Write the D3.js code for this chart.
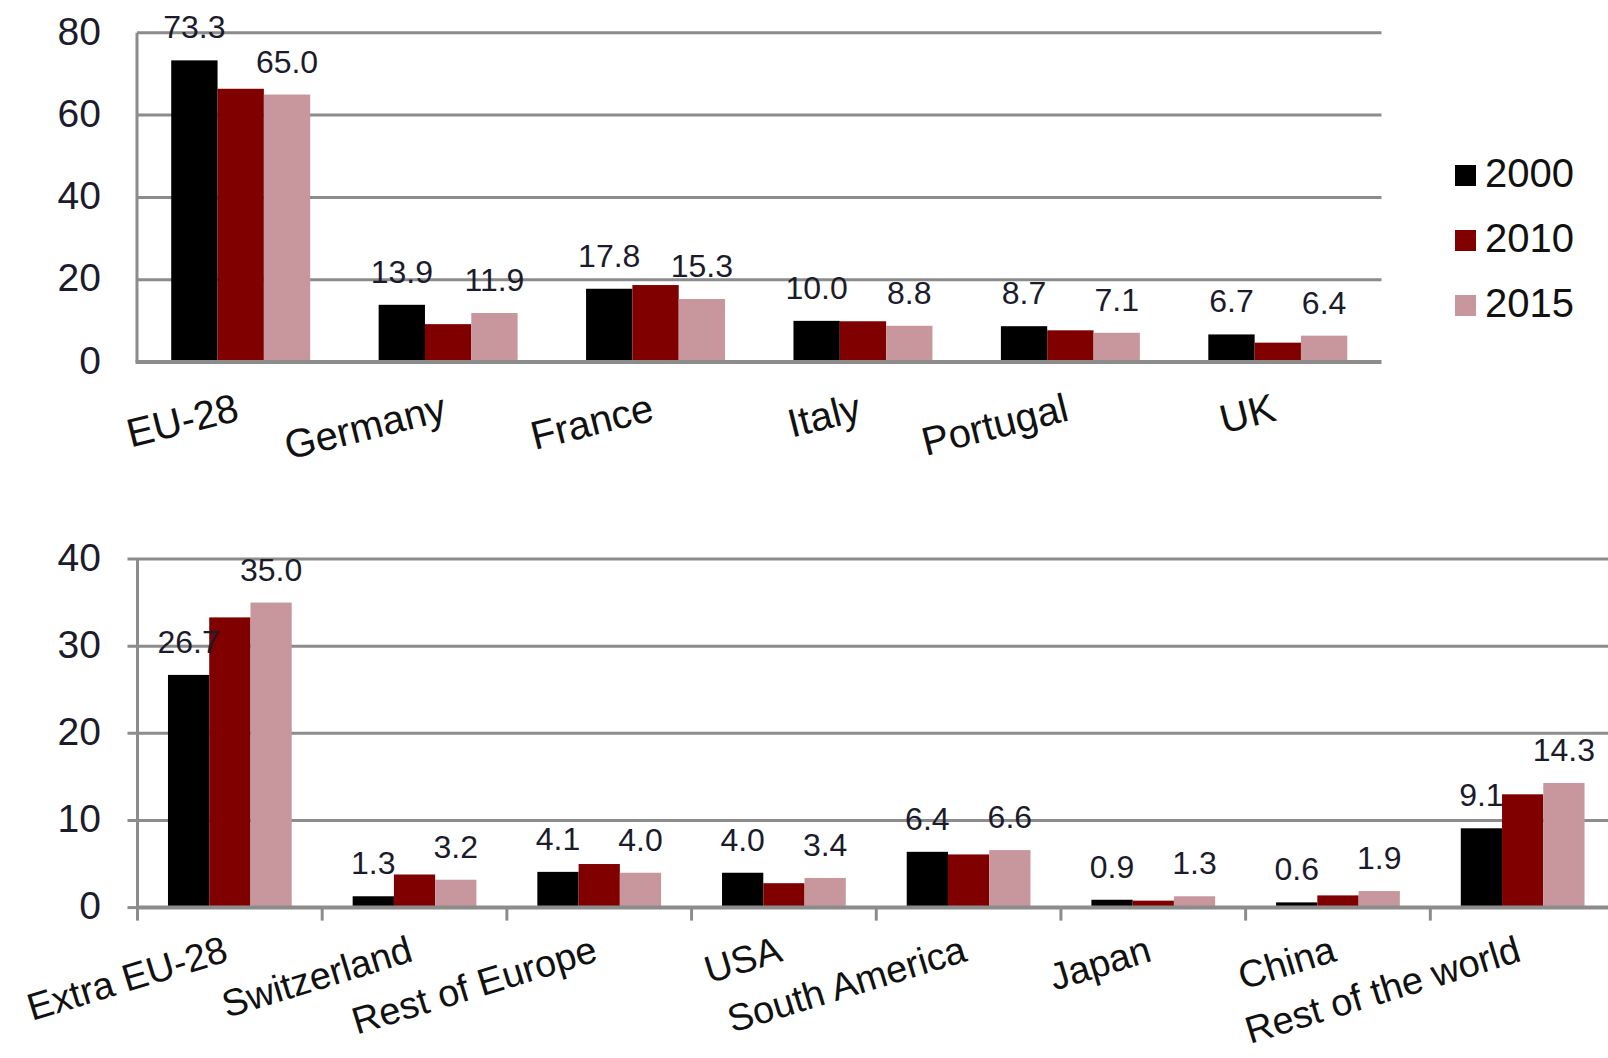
<!DOCTYPE html>
<html>
<head>
<meta charset="utf-8">
<script src="https://cdn.jsdelivr.net/npm/d3@7"></script>
<style>
  html, body { margin: 0; padding: 0; background: #ffffff; }
  svg { display: block; }
  text { font-family: "Liberation Sans", Arial, Helvetica, sans-serif; fill: #111; }
</style>
</head>
<body>
<svg id="chart" width="1608" height="1058"></svg>
<script>
// ---------- data ----------
const seriesNames = ["2000", "2010", "2015"];
const seriesColors = ["#000000", "#800000", "#c8979d"];

const topCategories = ["EU-28", "Germany", "France", "Italy", "Portugal", "UK"];
const top2000 = [73.3, 13.9, 17.8, 10.0, 8.7, 6.7];
const top2010 = [66.4, 9.2, 18.7, 9.9, 7.7, 4.7];
const top2015 = [65.0, 11.9, 15.3, 8.8, 7.1, 6.4];
const topTicks = [0, 20, 40, 60, 80];

const bottomCategories = ["Extra EU-28", "Switzerland", "Rest of Europe", "USA",
  "South America", "Japan", "China", "Rest of the world"];
const bottom2000 = [26.7, 1.3, 4.1, 4.0, 6.4, 0.9, 0.6, 9.1];
const bottom2010 = [33.3, 3.8, 5.0, 2.8, 6.1, 0.8, 1.4, 13.0];
const bottom2015 = [35.0, 3.2, 4.0, 3.4, 6.6, 1.3, 1.9, 14.3];
const bottomTicks = [0, 10, 20, 30, 40];

// series that carry value labels
const labelledSeries = ["2000", "2015"];

// ---------- drawing ----------
const svg = d3.select("#chart");
const gridColor = "#8c8c8c";

function drawPanel(cfg) {
  const g = svg.append("g");
  const values = [cfg.v2000, cfg.v2010, cfg.v2015];
  const rows = cfg.categories.map((c, i) => ({
    cat: c,
    vals: seriesNames.map((s, k) => ({ series: s, value: values[k][i] }))
  }));

  const x = d3.scaleBand().domain(cfg.categories)
    .range([cfg.left, cfg.right]).paddingInner(0.33).paddingOuter(0.165);
  const xs = d3.scaleBand().domain(seriesNames).range([0, x.bandwidth()]).padding(0);
  const y = d3.scaleLinear().domain(cfg.domain).range([cfg.bottom, cfg.top]);

  // gridlines (excluding 0)
  g.append("g").selectAll("line")
    .data(cfg.ticks.filter(t => t !== 0))
    .join("line")
    .attr("x1", cfg.left - cfg.yTickLen).attr("x2", cfg.gridRight)
    .attr("y1", d => y(d)).attr("y2", d => y(d))
    .attr("stroke", gridColor).attr("stroke-width", 3);

  // y tick mark for 0 (bottom panel)
  if (cfg.yTickLen > 0) {
    g.append("line")
      .attr("x1", cfg.left - cfg.yTickLen).attr("x2", cfg.left)
      .attr("y1", y(0)).attr("y2", y(0))
      .attr("stroke", gridColor).attr("stroke-width", 3);
  }

  // y tick labels
  g.append("g").selectAll("text")
    .data(cfg.ticks)
    .join("text")
    .attr("x", 101)
    .attr("y", d => y(d))
    .attr("dy", "0.30em")
    .attr("text-anchor", "end")
    .style("font-size", "39px")
    .style("fill", "#1b1b2b")
    .text(d => d);

  // bars
  const groups = g.append("g").selectAll("g")
    .data(rows)
    .join("g")
    .attr("transform", d => `translate(${x(d.cat)},0)`);

  groups.selectAll("rect")
    .data(d => d.vals)
    .join("rect")
    .attr("x", d => xs(d.series))
    .attr("width", xs.bandwidth())
    .attr("y", d => y(d.value))
    .attr("height", d => y(0) - y(d.value))
    .attr("fill", d => seriesColors[seriesNames.indexOf(d.series)]);

  // value labels
  groups.selectAll("text")
    .data(d => d.vals.filter(v => labelledSeries.includes(v.series)))
    .join("text")
    .attr("x", d => xs(d.series) + xs.bandwidth() / 2)
    .attr("y", d => y(d.value) - 22)
    .attr("text-anchor", "middle")
    .style("font-size", "32px")
    .style("fill", "#1b1b2b")
    .text(d => d.value.toFixed(1));

  // y axis line
  g.append("line")
    .attr("x1", cfg.left).attr("x2", cfg.left)
    .attr("y1", y(cfg.domain[1])).attr("y2", y(0))
    .attr("stroke", gridColor).attr("stroke-width", 3);

  // x axis baseline
  g.append("line")
    .attr("x1", cfg.left - 1.5).attr("x2", cfg.gridRight)
    .attr("y1", y(0)).attr("y2", y(0))
    .attr("stroke", gridColor).attr("stroke-width", 4);

  // x tick marks at category boundaries
  if (cfg.xTicks) {
    const bounds = cfg.categories.map(c => x(c) - x.step() * x.paddingInner() / 2);
    g.append("g").selectAll("line")
      .data(bounds)
      .join("line")
      .attr("x1", d => d).attr("x2", d => d)
      .attr("y1", y(0)).attr("y2", y(0) + 13)
      .attr("stroke", gridColor).attr("stroke-width", 3);
  }

  // category labels
  g.append("g").selectAll("text")
    .data(cfg.categories)
    .join("text")
    .attr("text-anchor", "end")
    .attr("transform", d =>
      `translate(${x(d) + x.bandwidth() / 2},${y(0) + cfg.labelDrop}) rotate(${cfg.rotate})`)
    .style("font-size", cfg.labelSize)
    .style("fill", "#111")
    .text(d => d);
}

drawPanel({
  categories: topCategories, v2000: top2000, v2010: top2010, v2015: top2015,
  ticks: topTicks, domain: [0, 80],
  left: 137, right: 1381.5, gridRight: 1381.5, top: 32.8, bottom: 362,
  yTickLen: 0, xTicks: false, rotate: -14, labelDrop: 58, labelSize: "40px"
});

drawPanel({
  categories: bottomCategories, v2000: bottom2000, v2010: bottom2010, v2015: bottom2015,
  ticks: bottomTicks, domain: [0, 40],
  left: 137.5, right: 1615, gridRight: 1608, top: 559, bottom: 907.6,
  yTickLen: 10, xTicks: true, rotate: -17, labelDrop: 53, labelSize: "38px"
});

// legend
const legend = svg.append("g").attr("transform", "translate(1455,165)");
const li = legend.selectAll("g")
  .data(seriesNames)
  .join("g")
  .attr("transform", (d, i) => `translate(0,${i * 65})`);
li.append("rect")
  .attr("width", 21).attr("height", 21)
  .attr("fill", (d, i) => seriesColors[i]);
li.append("text")
  .attr("x", 30).attr("y", 22)
  .style("font-size", "40px")
  .style("fill", "#111")
  .text(d => d);
</script>
</body>
</html>
